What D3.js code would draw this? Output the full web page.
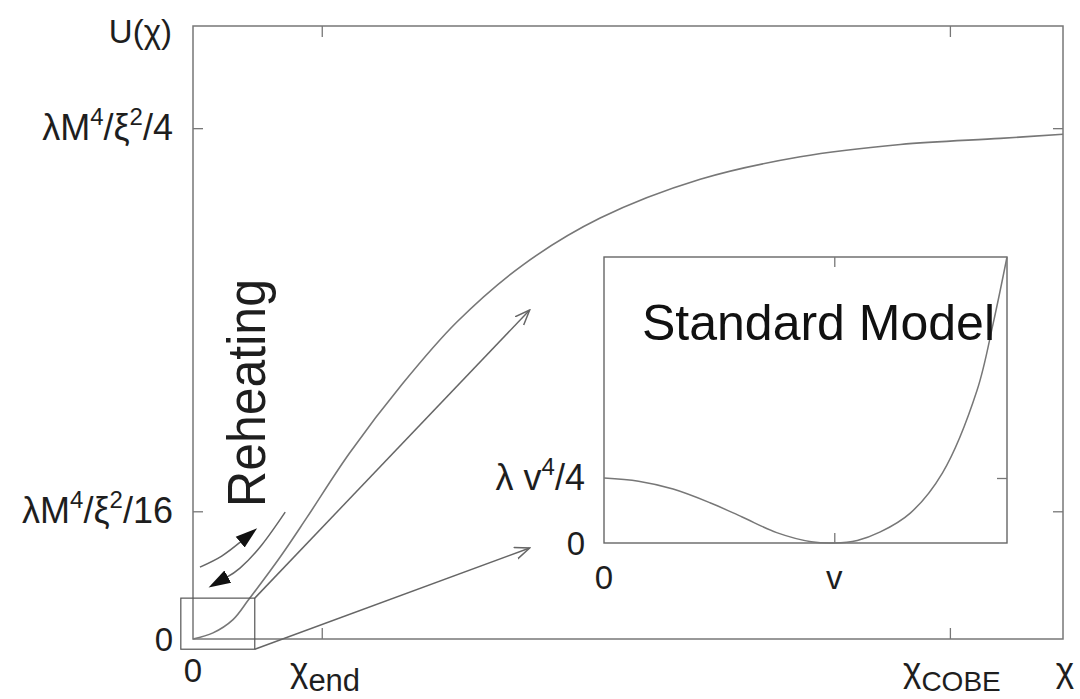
<!DOCTYPE html>
<html>
<head>
<meta charset="utf-8">
<script src="https://cdn.jsdelivr.net/npm/d3@7"></script>
<style>
body { margin: 0; background: #fff; }
text { font-family: "Liberation Sans", Arial, sans-serif; fill: #1e1e1e; }
</style>
</head>
<body>
<script>
// Higgs inflation potential, U in units of lambda M^4 / xi^2, chi in arbitrary units
var chi = [0, 0.23, 0.46, 0.64, 1.0, 1.31, 1.80, 2.41, 3.03, 3.79, 4.68, 5.83, 6.98, 8.13, 9.28, 10];
var U   = [0, 0.003, 0.0095, 0.0193, 0.040, 0.0595, 0.091, 0.125, 0.155, 0.183, 0.206, 0.225, 0.236, 0.242, 0.245, 0.247];

var xTicks = [0, 1.48, 8.70];
var yTicks = [0, 1 / 16, 1 / 4];

// Standard Model potential, phi in units of v, V in units of lambda v^4 / 4
var phi = [0, 0.15, 0.3, 0.46, 0.6, 0.75, 0.9, 1.0, 1.1, 1.2, 1.33, 1.47, 1.62, 1.69, 1.75];
var V   = [1.0, 0.95, 0.83, 0.62, 0.40, 0.16, 0.02, 0, 0.04, 0.17, 0.46, 1.08, 2.35, 3.38, 4.4];

var insetXTicks = [0, 1];
var insetYTicks = [0, 1];

// zoom box around the reheating region, and the two pointer lines
var zoomBox = {x0: -0.14, x1: 0.71, y0: -0.005, y1: 0.020};
var pointerTips = [[3.87, 0.161], [3.87, 0.0445]];

// reheating oscillation arrows
var arrowUpX = [0.08, 0.33, 0.56], arrowUpY = [0.0352, 0.0406, 0.0480];
var arrowDnX = [1.06, 0.79, 0.54, 0.38], arrowDnY = [0.0621, 0.046, 0.0347, 0.0300];

var W = 1080, H = 699;
var margin = {top: 26, right: 17, bottom: 60, left: 193};

var x = d3.scaleLinear().domain([0, 10]).range([margin.left, W - margin.right]);
var y = d3.scaleLinear().domain([0, 0.3]).range([H - margin.bottom, margin.top]);

var xi = d3.scaleLinear().domain([0, 1.75]).range([604, 1007]);
var yi = d3.scaleLinear().domain([0, 4.4]).range([543, 257]);

var svg = d3.select("body").append("svg")
    .attr("width", W)
    .attr("height", H);

var defs = svg.append("defs");
defs.append("marker")
    .attr("id", "open")
    .attr("viewBox", "0 -7 16 14")
    .attr("refX", 15).attr("refY", 0)
    .attr("markerWidth", 16).attr("markerHeight", 14)
    .attr("markerUnits", "userSpaceOnUse")
    .attr("orient", "auto")
    .append("path")
    .attr("d", "M0,-6L15,0L0,6")
    .attr("fill", "none")
    .attr("stroke", "#666")
    .attr("stroke-width", 1.5);
defs.append("marker")
    .attr("id", "solid")
    .attr("viewBox", "0 -8 23 16")
    .attr("refX", 2).attr("refY", 0)
    .attr("markerWidth", 23).attr("markerHeight", 16)
    .attr("markerUnits", "userSpaceOnUse")
    .attr("orient", "auto")
    .append("path")
    .attr("d", "M0,-7L22,0L0,7Z")
    .attr("fill", "#111");

function rich(sel, parts, size) {
    var off = 0;
    parts.forEach(function(p) {
        var t = sel.append("tspan").text(p[0]);
        var target = p[1] == "sup" ? -0.42 * size : p[1] == "sub" ? 0.26 * size : 0;
        if (target != off) t.attr("dy", target - off);
        off = target;
        if (p[2]) t.style("font-size", p[2] + "px");
    });
}

// main frame
svg.append("rect")
    .attr("x", x(0)).attr("y", y(0.3))
    .attr("width", x(10) - x(0)).attr("height", y(0) - y(0.3))
    .attr("fill", "none").attr("stroke", "#777").attr("stroke-width", 1.5);

function ticks(g) {
    g.select(".domain").remove();
    g.selectAll("line").attr("stroke", "#777").attr("stroke-width", 1.3);
    g.selectAll("text").remove();
}
svg.append("g").attr("transform", "translate(0," + y(0) + ")")
    .call(d3.axisBottom(x).tickValues(xTicks.slice(1)).tickSizeInner(-11).tickSizeOuter(0)).call(ticks);
svg.append("g").attr("transform", "translate(0," + y(0.3) + ")")
    .call(d3.axisTop(x).tickValues(xTicks.slice(1)).tickSizeInner(-11).tickSizeOuter(0)).call(ticks);
svg.append("g").attr("transform", "translate(" + x(0) + ",0)")
    .call(d3.axisLeft(y).tickValues(yTicks.slice(1)).tickSizeInner(-10).tickSizeOuter(0)).call(ticks);
svg.append("g").attr("transform", "translate(" + x(10) + ",0)")
    .call(d3.axisRight(y).tickValues(yTicks.slice(1)).tickSizeInner(-10).tickSizeOuter(0)).call(ticks);

// potential curve
var line = d3.line().curve(d3.curveCatmullRom.alpha(0.5));
svg.append("path")
    .attr("d", line(chi.map(function(c, i) { return [x(c), y(U[i])]; })))
    .attr("fill", "none").attr("stroke", "#777").attr("stroke-width", 1.6);

// zoom box and pointers to the inset
svg.append("rect")
    .attr("x", x(zoomBox.x0)).attr("y", y(zoomBox.y1))
    .attr("width", x(zoomBox.x1) - x(zoomBox.x0)).attr("height", y(zoomBox.y0) - y(zoomBox.y1))
    .attr("fill", "none").attr("stroke", "#555").attr("stroke-width", 1.2);

var corners = [[zoomBox.x1, zoomBox.y1], [zoomBox.x1, zoomBox.y0]];
corners.forEach(function(c, i) {
    svg.append("line")
        .attr("x1", x(c[0])).attr("y1", y(c[1]))
        .attr("x2", x(pointerTips[i][0])).attr("y2", y(pointerTips[i][1]))
        .attr("stroke", "#666").attr("stroke-width", 1.5)
        .attr("marker-end", "url(#open)");
});

// reheating arrows
var curved = d3.line().curve(d3.curveNatural);
svg.append("path")
    .attr("d", curved(arrowUpX.map(function(c, i) { return [x(c), y(arrowUpY[i])]; })))
    .attr("fill", "none").attr("stroke", "#666").attr("stroke-width", 1.5)
    .attr("marker-end", "url(#solid)");
svg.append("path")
    .attr("d", curved(arrowDnX.map(function(c, i) { return [x(c), y(arrowDnY[i])]; })))
    .attr("fill", "none").attr("stroke", "#666").attr("stroke-width", 1.5)
    .attr("marker-end", "url(#solid)");

svg.append("text")
    .attr("transform", "translate(265,393) rotate(-90) scale(1,1.08)")
    .attr("text-anchor", "middle")
    .style("font-size", "50px")
    .text("Reheating");

// main labels
var fs = 35, sup = 24;
svg.append("text").attr("x", 172).attr("y", 43).attr("text-anchor", "end")
    .style("font-size", "33px").text("U(χ)");

var yLabels = [
    [["0"]],
    [["λM"], ["4", "sup", sup], ["/ξ"], ["2", "sup", sup], ["/16"]],
    [["λM"], ["4", "sup", sup], ["/ξ"], ["2", "sup", sup], ["/4"]]
];
yTicks.forEach(function(t, i) {
    var tx = svg.append("text")
        .attr("x", 173).attr("y", y(t) + 12)
        .attr("text-anchor", "end")
        .style("font-size", (i == 0 ? 33 : 36) + "px");
    rich(tx, yLabels[i], 36);
});

var xLabels = [
    [["0"]],
    [["χ"], ["end", "sub", 31]],
    [["χ"], ["COBE", "sub", 28]]
];
var xLabelX = [193, 290, 903];
xTicks.forEach(function(t, i) {
    var tx = svg.append("text")
        .attr("x", xLabelX[i])
        .attr("y", 682)
        .attr("text-anchor", i == 0 ? "middle" : "start")
        .style("font-size", (i == 0 ? 33 : fs) + "px");
    rich(tx, xLabels[i], fs);
});
svg.append("text").attr("x", 1065).attr("y", 682).attr("text-anchor", "middle")
    .style("font-size", fs + "px").text("χ");

// inset: Standard Model potential
var inset = svg.append("g");
inset.append("rect")
    .attr("x", xi(0)).attr("y", yi(4.4))
    .attr("width", xi(1.75) - xi(0)).attr("height", yi(0) - yi(4.4))
    .attr("fill", "#fff").attr("stroke", "#666").attr("stroke-width", 1.4);

inset.append("g").attr("transform", "translate(0," + yi(0) + ")")
    .call(d3.axisBottom(xi).tickValues(insetXTicks.slice(1)).tickSizeInner(-10).tickSizeOuter(0)).call(ticks);
inset.append("g").attr("transform", "translate(0," + yi(4.4) + ")")
    .call(d3.axisTop(xi).tickValues(insetXTicks.slice(1)).tickSizeInner(-10).tickSizeOuter(0)).call(ticks);
inset.append("g").attr("transform", "translate(" + xi(1.75) + ",0)")
    .call(d3.axisRight(yi).tickValues(insetYTicks.slice(1)).tickSizeInner(-10).tickSizeOuter(0)).call(ticks);

inset.append("path")
    .attr("d", d3.line().curve(d3.curveCatmullRom.alpha(0.5))(phi.map(function(p, i) { return [xi(p), yi(V[i])]; })))
    .attr("fill", "none").attr("stroke", "#777").attr("stroke-width", 1.5);

var insetYLabels = [[["0"]], [["λ v"], ["4", "sup", sup], ["/4"]]];
insetYTicks.forEach(function(t, i) {
    var tx = inset.append("text")
        .attr("x", 585).attr("y", yi(t) + 12)
        .attr("text-anchor", "end")
        .style("font-size", (i == 0 ? 33 : 36) + "px");
    rich(tx, insetYLabels[i], 36);
});
var insetXLabels = ["0", "v"];
insetXTicks.forEach(function(t, i) {
    inset.append("text")
        .attr("x", xi(t)).attr("y", 589)
        .attr("text-anchor", "middle")
        .style("font-size", "33px")
        .text(insetXLabels[i]);
});

inset.append("text")
    .attr("x", 642).attr("y", 340)
    .style("font-size", "50px")
    .style("fill", "#111")
    .text("Standard Model");
</script>
</body>
</html>
